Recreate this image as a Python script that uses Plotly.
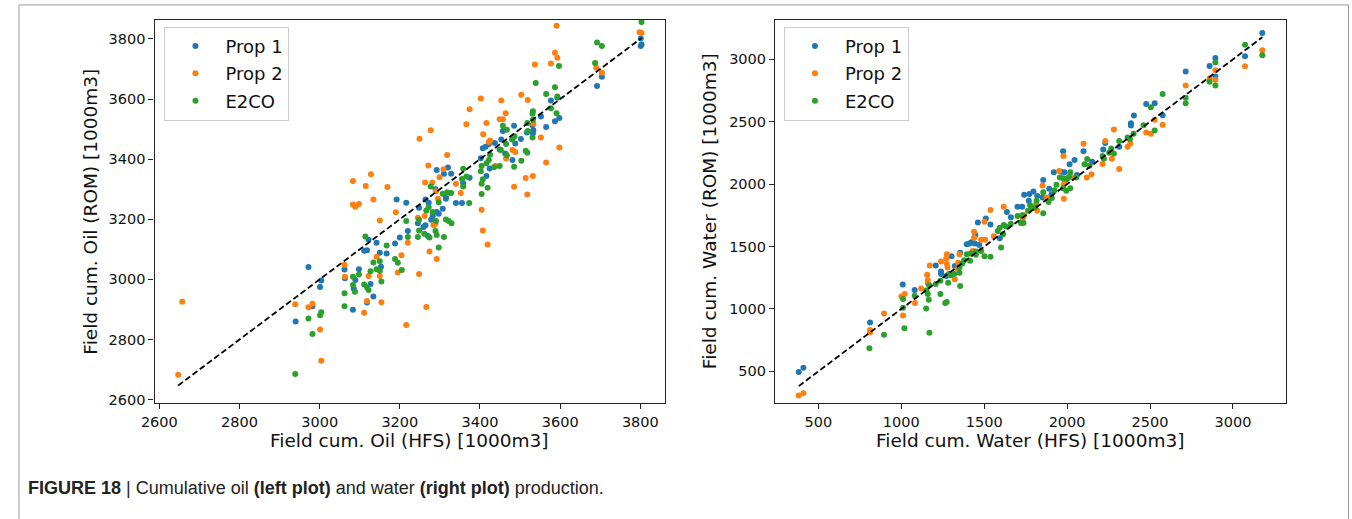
import plotly.graph_objects as go

# ---------------- Oil (left plot): HFS (x) vs ROM (y) ----------------
oil_prop1_hfs = [3801, 3803, 3801, 3704, 3692, 3577, 3593, 3598, 3587, 3565, 3552, 3531, 3533, 3532, 3517, 3502,
                 3485, 3457, 3453, 3437, 3449, 3463, 3488, 3481, 3422, 3414, 3407, 3402, 3424, 3416, 3320, 3292,
                 3310, 3328, 3289, 3315, 3358, 3374,
                 2972, 3001, 3004, 2940, 2982, 3062, 3063, 3089, 3098, 3085, 3083, 3118, 3127, 3134, 3111, 3118,
                 3122, 3142, 3150, 3153, 3167, 3188, 3192, 3200,
                 3216, 3264, 3272, 3315, 3340, 3355, 3248, 3307, 3292, 3297, 3282, 3278, 3264, 3259, 3245, 3220, 3270]
oil_prop1_rom = [3801, 3781, 3776, 3674, 3643, 3595, 3604, 3537, 3526, 3507, 3542, 3513, 3496, 3485, 3489, 3467,
                 3511, 3494, 3465, 3454, 3432, 3419, 3452, 3397, 3450, 3441, 3436, 3403, 3369, 3344, 3372, 3364,
                 3351, 3351, 3300, 3276, 3320, 3338,
                 3041, 2975, 2996, 2860, 2911, 3033, 3004, 2998, 3034, 2969, 2899, 2923, 2985, 2943, 3095, 3097,
                 3132, 3122, 3089, 3042, 3086, 3119, 3266, 3139,
                 3255, 3266, 3255, 3268, 3254, 3254, 3238, 3235, 3224, 3218, 3210, 3198, 3180, 3174, 3187, 3161, 3144]

oil_prop2_hfs = [3591, 3587, 3593, 3537, 3577, 3503, 3519, 3402, 3453, 3374, 3464, 3449, 3457, 3366, 3416, 3277,
                 3408, 3249, 3422, 3425, 3552, 3598, 3481, 3488, 3465, 3318, 3565, 3271, 3309, 3299, 3514, 3532,
                 3263, 3485, 3340, 3320, 3352, 3518, 3169, 3690, 3704, 3803, 3798, 3533, 3438, 3290, 3281,
                 3083, 3128, 3115,
                 2647, 2657, 3083, 3089, 3098, 3134, 3150, 3190, 3195, 3062, 3063, 3122, 3142, 3150, 3154, 3118,
                 3111, 2939, 2972, 2982, 3001, 3004,
                 3295, 3245, 3262, 3284, 3289, 3220, 3204, 3274, 3292, 3248, 3266, 3216, 3404, 3407, 3419]
oil_prop2_rom = [3844, 3754, 3737, 3715, 3718, 3614, 3597, 3602, 3595, 3566, 3553, 3533, 3533, 3516, 3520, 3496,
                 3483, 3468, 3457, 3462, 3472, 3439, 3430, 3424, 3402, 3414, 3389, 3379, 3366, 3340, 3337, 3344,
                 3322, 3308, 3318, 3287, 3287, 3282, 3307, 3704, 3687, 3820, 3822, 3518, 3377, 3293, 3322,
                 3327, 3350, 3311,
                 2683, 2926, 3249, 3242, 3251, 3266, 3196, 3223, 3023, 3049, 3009, 3011, 3075, 3011, 2924, 2928,
                 2889, 2917, 2907, 2919, 2833, 2729,
                 3268, 3205, 3211, 3180, 3185, 3122, 3080, 3093, 3068, 3018, 2908, 2848, 3232, 3163, 3116]

oil_e2co_hfs = [3803, 3692, 3704, 3687, 3597, 3539, 3587, 3565, 3593, 3577, 3591, 3532, 3531, 3532, 3518, 3519,
                3457, 3467, 3483, 3486, 3480, 3465, 3452, 3514, 3518, 3467, 3503, 3485, 3531, 3425, 3422, 3416,
                3449, 3435, 3404, 3402, 3407, 3404, 3419, 3404, 3358, 3355, 3366, 3358, 3328, 3318, 3307, 3277,
                2939, 2972, 2982, 3001, 3004, 3062, 3062, 3083, 3083, 3088, 3098, 3111, 3118, 3122, 3114, 3134,
                3127, 3142, 3150, 3150, 3154, 3167, 3188, 3195,
                3297, 3373, 3272, 3266, 3282, 3290, 3315, 3322, 3329, 3216, 3248, 3248, 3220, 3245, 3261, 3274,
                3289, 3292, 3310, 3297, 3205]
oil_e2co_rom = [3856, 3788, 3776, 3720, 3710, 3653, 3639, 3617, 3608, 3569, 3553, 3559, 3551, 3531, 3520, 3494,
                3511, 3498, 3472, 3476, 3465, 3450, 3430, 3428, 3421, 3413, 3395, 3375, 3472, 3415, 3397, 3386,
                3377, 3373, 3377, 3360, 3333, 3318, 3305, 3284, 3368, 3334, 3342, 3309, 3287, 3290, 3285, 3309,
                2685, 2870, 2818, 2881, 2891, 2954, 2911, 3009, 2981, 2959, 3016, 2983, 2974, 2965, 3143, 3056,
                3027, 3034, 3060, 3029, 2993, 3113, 3068, 3055,
                3257, 3254, 3240, 3229, 3224, 3194, 3199, 3194, 3187, 3194, 3198, 3163, 3141, 3141, 3152, 3139,
                3161, 3148, 3141, 3106, 3031]

# ---------------- Water (right plot): HFS (x) vs ROM (y) ----------------
wat_prop1_hfs = [2099, 1976, 2045, 2015, 2151, 1920, 1964, 1984, 2059, 1892, 1856, 1906, 1852, 1820, 1797, 1773,
                 1741, 1769, 1701, 1729, 1661, 1637, 1594, 1538, 1510, 1462, 1447, 1443, 1423, 1411, 1395, 1470,
                 1355, 1303, 1208, 1323, 1271, 1240, 1240, 1081, 1009,
                 2477, 2528, 2403, 2385, 2385, 2576, 2218, 2230, 2314,
                 3177, 3073, 2715, 2859, 2894, 2894,
                 382, 410, 812]
wat_prop1_rom = [2264, 2264, 2193, 2159, 2180, 2095, 2100, 2095, 2074, 1963, 2034, 1920, 1894, 1905, 1942, 1921,
                 1915, 1868, 1820, 1820, 1735, 1778, 1566, 1677, 1725, 1693, 1592, 1524, 1534, 1524, 1518, 1513,
                 1450, 1423, 1349, 1344, 1264, 1301, 1280, 1153, 1196,
                 2643, 2648, 2550, 2489, 2471, 2553, 2277, 2330, 2299,
                 3212, 3026, 2902, 2947, 3010, 2863,
                 495, 529, 891]

wat_prop2_hfs = [2099, 1978, 1952, 2035, 2147, 2119, 1986, 1980, 1852, 1980, 1876, 1813, 1820, 1741, 1733, 1618,
                 1538, 1502, 1558, 1506, 1439, 1439, 1431, 1351, 1275, 1271, 1275, 1279, 1240, 1172, 1343, 1339,
                 1323, 1156, 1160, 1160, 1120, 1021, 1001, 1482,
                 2528, 2576, 2477, 2505, 2282, 2230, 2365, 2381, 2314, 2214, 2270,
                 3177, 3073, 2715, 2894, 2894, 2859,
                 382, 410, 812, 812, 896, 1011, 1083]
wat_prop2_rom = [2323, 2225, 2106, 2053, 2079, 2053, 2021, 2000, 1989, 1883, 1894, 1841, 1788, 1751, 1725, 1820,
                 1794, 1698, 1582, 1555, 1571, 1619, 1465, 1439, 1439, 1402, 1360, 1333, 1381, 1349, 1370, 1322,
                 1238, 1275, 1233, 1206, 1164, 1121, 1100, 1555,
                 2516, 2476, 2415, 2404, 2439, 2346, 2299, 2325, 2121, 2161, 2203,
                 3074, 2944, 2791, 2913, 2836, 2847,
                 307, 325, 831, 812, 963, 947, 1048]

wat_e2co_hfs = [2121, 2105, 2135, 2019, 2055, 1956, 1976, 1999, 2011, 1976, 1995, 1936, 1924, 1856, 2019, 1908,
                1888, 1816, 1856, 1777, 1793, 1808, 1765, 1729, 1721, 1737, 1701, 1661, 1633, 1618, 1594, 1582,
                1614, 1602, 1482, 1450, 1419, 1415, 1450, 1395, 1379, 1502, 1538, 1351, 1367, 1351, 1319, 1287,
                1299, 1283, 1236, 1208, 1168, 1152, 1081, 1160, 1236, 1355,
                2576, 2505, 2461, 2528, 2401, 2365, 2379, 2314, 2266, 2282, 2254, 2214, 2222,
                3073, 3177, 2715, 2715, 2894, 2894, 2859,
                808, 896, 1011, 1011, 1019, 1150, 1166, 1170, 1274, 1265]
wat_e2co_rom = [2201, 2159, 2148, 2095, 2053, 2053, 2047, 2042, 2058, 1968, 1947, 1995, 1952, 1936, 1968, 1889,
                1857, 1868, 1767, 1831, 1809, 1815, 1788, 1751, 1688, 1688, 1746, 1682, 1661, 1672, 1651, 1624,
                1598, 1492, 1465, 1460, 1444, 1386, 1434, 1439, 1391, 1423, 1418, 1333, 1365, 1291, 1280, 1280,
                1270, 1211, 1227, 1201, 1190, 1148, 1106, 1121, 1121, 1185,
                2722, 2616, 2473, 2431, 2404, 2373, 2362, 2346, 2285, 2246, 2251, 2225, 2203,
                3117, 3034, 2693, 2648, 2974, 2791, 2820,
                685, 794, 1079, 1010, 846, 1003, 1074, 809, 1055, 1047]

series_names = ["Prop 1", "Prop 2", "E2CO"]
series_colors = ["#1f77b4", "#ff7f0e", "#2ca02c"]

oil_ticks = [2600, 2800, 3000, 3200, 3400, 3600, 3800]
wat_ticks = [500, 1000, 1500, 2000, 2500, 3000]

W, H = 1352, 519
FONT = "DejaVu Sans"


def px_x(p):
    return p / W


def px_y(p):
    return 1 - p / H


fig = go.Figure()

oil_sets = [(oil_prop1_hfs, oil_prop1_rom), (oil_prop2_hfs, oil_prop2_rom), (oil_e2co_hfs, oil_e2co_rom)]
wat_sets = [(wat_prop1_hfs, wat_prop1_rom), (wat_prop2_hfs, wat_prop2_rom), (wat_e2co_hfs, wat_e2co_rom)]

for i, (xs, ys) in enumerate(oil_sets):
    fig.add_trace(go.Scatter(x=xs, y=ys, mode="markers", name=series_names[i],
                             marker=dict(color=series_colors[i], size=6, line=dict(width=0)),
                             xaxis="x", yaxis="y", legend="legend", legendgroup="o%d" % i))
all_oil_x = oil_prop1_hfs + oil_prop2_hfs + oil_e2co_hfs
oil_line = [min(all_oil_x), max(all_oil_x)]
fig.add_trace(go.Scatter(x=oil_line, y=oil_line, mode="lines", showlegend=False,
                         line=dict(color="black", width=1.8, dash="6px,3px"), xaxis="x", yaxis="y"))

for i, (xs, ys) in enumerate(wat_sets):
    fig.add_trace(go.Scatter(x=xs, y=ys, mode="markers", name=series_names[i],
                             marker=dict(color=series_colors[i], size=6, line=dict(width=0)),
                             xaxis="x2", yaxis="y2", legend="legend2", legendgroup="w%d" % i))
all_wat_x = wat_prop1_hfs + wat_prop2_hfs + wat_e2co_hfs
wat_line = [min(all_wat_x), max(all_wat_x)]
fig.add_trace(go.Scatter(x=wat_line, y=wat_line, mode="lines", showlegend=False,
                         line=dict(color="black", width=1.8, dash="6px,3px"), xaxis="x2", yaxis="y2"))

axis_common = dict(showline=True, mirror=True, linecolor="#222", linewidth=1.2, ticks="outside",
                   ticklen=5, tickwidth=1.2, tickcolor="#222", showgrid=False, zeroline=False,
                   tickfont=dict(family=FONT, size=14.5, color="#111"))

legend_common = dict(xanchor="left", yanchor="top", bgcolor="white", bordercolor="#cccccc", borderwidth=1,
                     font=dict(family=FONT, size=18, color="#111"), itemwidth=50, tracegroupgap=1)

ydom = [px_y(407), px_y(20)]
fig.update_layout(
    width=W, height=H, margin=dict(l=0, r=0, t=0, b=0),
    paper_bgcolor="white", plot_bgcolor="white",
    xaxis=dict(domain=[px_x(142), px_x(658)], range=[2588, 3862], tickvals=oil_ticks, anchor="y", **axis_common),
    yaxis=dict(domain=ydom, range=[2588.5, 3863.5], tickvals=oil_ticks, anchor="x", **axis_common),
    xaxis2=dict(domain=[px_x(769), px_x(1285)], range=[239, 3318], tickvals=wat_ticks, anchor="y2", **axis_common),
    yaxis2=dict(domain=ydom, range=[246, 3317], tickvals=wat_ticks, anchor="x2", **axis_common),
    legend=dict(x=px_x(152), y=px_y(27), **legend_common),
    legend2=dict(x=px_x(778), y=px_y(27), **legend_common),
    showlegend=True,
)

title_font = dict(family=FONT, size=18.5, color="#111")
annos = [
    dict(text="Field cum. Oil (HFS) [1000m3]", x=px_x(400), y=px_y(445)),
    dict(text="Field cum. Water (HFS) [1000m3]", x=px_x(1027), y=px_y(445)),
    dict(text="Field cum. Oil (ROM) [1000m3]", x=px_x(77), y=px_y(213.5), textangle=-90),
    dict(text="Field cum. Water (ROM) [1000m3]", x=px_x(703), y=px_y(213.5), textangle=-90),
]
for a in annos:
    fig.add_annotation(xref="paper", yref="paper", showarrow=False, xanchor="center", yanchor="middle",
                       font=title_font, **a)

fig.add_annotation(xref="paper", yref="paper", x=px_x(12), y=px_y(493), xanchor="left", yanchor="middle",
                   showarrow=False,
                   text="<b>FIGURE 18</b> | Cumulative oil <b>(left plot)</b> and water <b>(right plot)</b> production.",
                   font=dict(family="Liberation Sans Narrow, Liberation Sans, Arial", size=18, color="#222"))

fig.add_shape(type="rect", xref="paper", yref="paper", x0=px_x(5), x1=px_x(1348.5), y0=-0.1, y1=px_y(5),
              line=dict(color="#999999", width=1), fillcolor="rgba(0,0,0,0)", layer="below")

fig.write_html("out.html")
